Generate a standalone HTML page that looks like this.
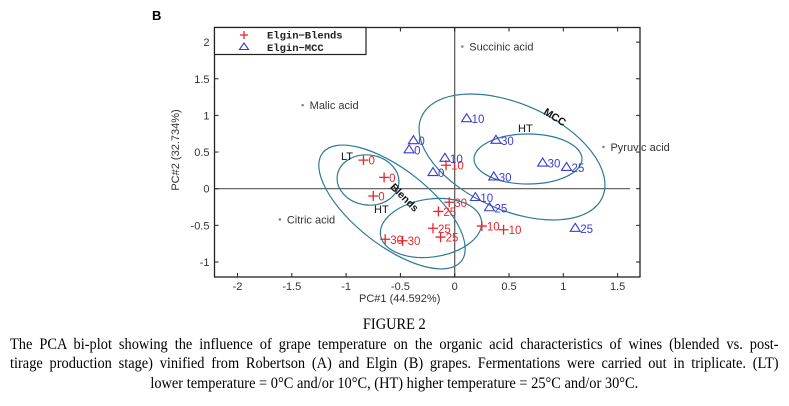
<!DOCTYPE html>
<html><head><meta charset="utf-8"><style>
body{margin:0;width:789px;height:406px;background:#fff;overflow:hidden;position:relative;font-family:"Liberation Sans",sans-serif}
#cap{position:absolute;left:10px;top:315px;width:854px;transform:scaleX(0.9);transform-origin:0 0;font-family:"Liberation Serif",serif;font-size:16px;color:#000;line-height:19.5px}
.j{text-align:justify;text-align-last:justify;white-space:normal}
.c{text-align:center}
</style></head><body>
<svg id="chart" width="789" height="310" style="position:absolute;left:0;top:0" font-family="Liberation Sans, sans-serif">
<text x="152" y="20" font-size="13" font-weight="bold">B</text>
<g id="plot"></g>
</svg>
<div id="cap">
<div class="c">FIGURE 2</div>
<div class="j">The PCA bi-plot showing the influence of grape temperature on the organic acid characteristics of wines (blended vs. post-</div>
<div class="j">tirage production stage) vinified from Robertson (A) and Elgin (B) grapes. Fermentations were carried out in triplicate. (LT)</div>
<div class="c">lower temperature = 0°C and/or 10°C, (HT) higher temperature = 25°C and/or 30°C.</div>
</div>
<script>
const xTicks=[-2,-1.5,-1,-0.5,0,0.5,1,1.5];
const xTickLabels=["-2","-1.5","-1","-0.5","0","0.5","1","1.5"];
const yTicks=[-1,-0.5,0,0.5,1,1.5,2];
const yTickLabels=["-1","-0.5","0","0.5","1","1.5","2"];
const blendsX=[-0.84,-0.65,-0.75,-0.08,-0.05,-0.15,-0.2,-0.13,-0.64,-0.48,0.25,0.45];
const blendsY=[0.39,0.155,-0.1,0.32,-0.185,-0.31,-0.54,-0.66,-0.69,-0.71,-0.51,-0.56];
const blendsLbl=["0","0","0","10","30","25","25","25","30","30","10","10"];
const mccX=[0.11,-0.38,-0.42,-0.09,-0.2,0.38,0.81,1.03,0.36,0.19,0.32,1.11];
const mccY=[0.955,0.655,0.53,0.415,0.22,0.66,0.35,0.29,0.16,-0.12,-0.26,-0.54];
const mccLbl=["10","0","0","10","0","30","30","25","30","10","25","25"];
const acidNames=["Succinic acid","Malic acid","Pyruvic acid","Citric acid"];
const acidX=[0.07,-1.40,1.37,-1.61];
const acidY=[1.94,1.14,0.57,-0.42];
const X0=454.7,XS=108.6,Y0=188.7,YS=73.3;
const sx=v=>X0+v*XS, sy=v=>Y0-v*YS;
const L=214.5,R=640,T=27.5,B=277;
const NS="http://www.w3.org/2000/svg";
const g=document.getElementById('plot');
function mk(tag,at,txt){const e=document.createElementNS(NS,tag);for(const k in at)e.setAttribute(k,at[k]);if(txt!==undefined)e.textContent=txt;g.appendChild(e);return e;}
let fr=mk('rect',{x:L,y:T,width:R-L,height:B-T,fill:'none',stroke:'#222','stroke-width':1.3});


let zx=mk('line',{x1:L,x2:R-10,y1:sy(0),y2:sy(0),stroke:'#555','stroke-width':1.2});


let zy=mk('line',{x1:sx(0),x2:sx(0),y1:T,y2:B,stroke:'#555','stroke-width':1.2});


xTicks.forEach((v,i)=>{
  mk('line',{x1:sx(v),x2:sx(v),y1:B,y2:B-4,stroke:'#222'});
  mk('line',{x1:sx(v),x2:sx(v),y1:T,y2:T+4,stroke:'#222'});
  let t=mk('text',{x:sx(v),y:B+13,'font-size':11,fill:'#333','text-anchor':'middle'},xTickLabels[i]);
  
  
});
yTicks.forEach((v,i)=>{
  mk('line',{x1:L,x2:L+4,y1:sy(v),y2:sy(v),stroke:'#222'});
  mk('line',{x1:R,x2:R-4,y1:sy(v),y2:sy(v),stroke:'#222'});
  let t=mk('text',{x:L-5,y:sy(v)+4,'font-size':11,fill:'#333','text-anchor':'end'},yTickLabels[i]);
  
  
});
let xt=mk('text',{x:sx(0)-55,y:B+25,'font-size':11,fill:'#333','text-anchor':'middle'},'PC#1 (44.592%)');


let yt=mk('text',{x:0,y:0,'font-size':11,fill:'#333','text-anchor':'middle',transform:'translate(179,150) rotate(-90)'},'PC#2 (32.734%)');


const ells=[[368,180,31,25,8,'lt-blends-ellipse'],[392,207,88,38,38,'blends-ellipse'],[431,228,51,29,-8,'ht-blends-ellipse'],[512,157,99,53,24,'mcc-ellipse'],[528,159,54,25,0,'ht-mcc-ellipse']];
ells.forEach(e=>{let el=mk('ellipse',{cx:e[0],cy:e[1],rx:e[2],ry:e[3],fill:'none',stroke:'#2f7a96','stroke-width':1.2,transform:`rotate(${e[4]} ${e[0]} ${e[1]})`});

});
[['LT',341,160,0,'lt-label'],['HT',374,213,0,'ht-blends-label'],['HT',518,132,0,'ht-mcc-label']].forEach(a=>{let t=mk('text',{x:a[1],y:a[2],'font-size':11,fill:'#111'},a[0]);

});
let bl=mk('text',{x:0,y:0,'font-size':10.5,'font-weight':'bold',fill:'#111','text-anchor':'middle',transform:'translate(402,200) rotate(45)'},'Blends');


let mc=mk('text',{x:0,y:0,'font-size':10.5,'font-weight':'bold',fill:'#111','text-anchor':'middle',transform:'translate(553,120) rotate(32)'},'MCC');


acidNames.forEach((n,i)=>{
  let d=mk('circle',{cx:sx(acidX[i]),cy:sy(acidY[i]),r:1.3,fill:'#888'});
  
  
  let t=mk('text',{x:sx(acidX[i])+7,y:sy(acidY[i])+4,'font-size':11,fill:'#333'},n);
  
  
});
blendsX.forEach((v,i)=>{
  const x=sx(v),y=sy(blendsY[i]);
  let p=mk('path',{d:`M${x-5},${y}H${x+5}M${x},${y-5}V${y+5}`,stroke:'#e8262a','stroke-width':1.3});
  
  
  let t=mk('text',{x:x+5,y:y+4.5,'font-size':11.5,fill:'#e8262a'},blendsLbl[i]);
  
  
});
mccX.forEach((v,i)=>{
  const x=sx(v),y=sy(mccY[i]);
  let p=mk('path',{d:`M${x-5},${y+3}L${x},${y-5}L${x+5},${y+3}Z`,fill:'none',stroke:'#3a3ad8','stroke-width':1.1});
  
  
  let t=mk('text',{x:x+5,y:y+4.5,'font-size':11.5,fill:'#3a3ad8'},mccLbl[i]);
  
  
});
let lg=mk('rect',{x:L,y:T,width:151.5,height:27,fill:'#fff',stroke:'#222','stroke-width':1.2});


mk('path',{d:'M240,35H248M244,31V39',stroke:'#e8262a','stroke-width':1.3});
mk('path',{d:'M239.5,49.5L244,43L248.5,49.5Z',fill:'none',stroke:'#3a3ad8','stroke-width':1.1});
let l1=mk('text',{x:267,y:38.5,'font-size':10.5,'font-family':'Liberation Mono, monospace','font-weight':'bold',fill:'#222'},'Elgin−Blends');


let l2=mk('text',{x:267,y:51,'font-size':10.5,'font-family':'Liberation Mono, monospace','font-weight':'bold',fill:'#222'},'Elgin−MCC');


</script>
</body></html>
